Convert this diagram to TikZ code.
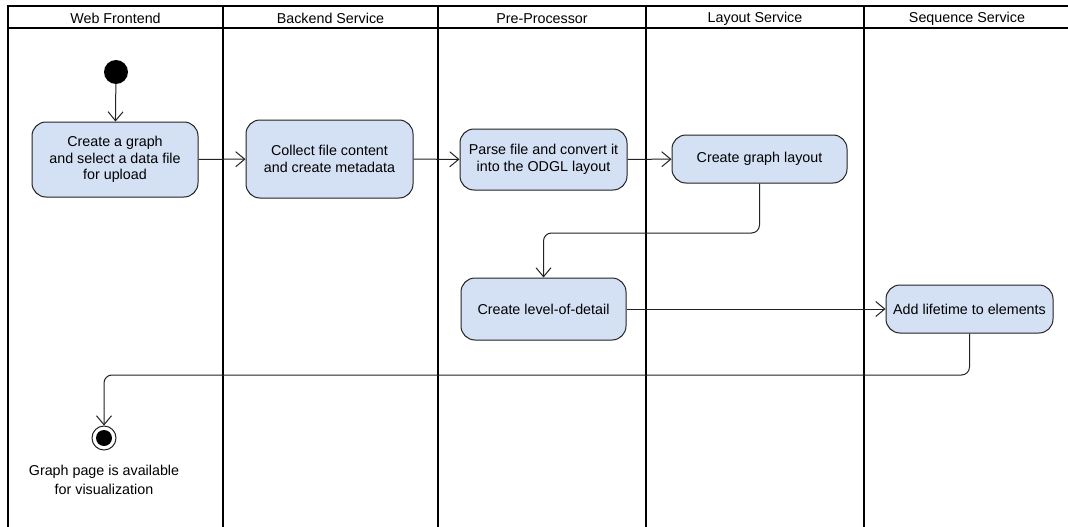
\documentclass[tikz,border=0pt]{standalone}
\usepackage{fontspec}
\setmainfont{Liberation Sans}
\usetikzlibrary{arrows.meta}
\definecolor{actfill}{HTML}{D4E1F5}
\definecolor{edge}{HTML}{222222}
\begin{document}
\begin{tikzpicture}[x=1pt,y=-1pt,
  lane/.style={draw=black, line width=1.8pt},
  lanehead/.style={font=\fontsize{14.3}{16}\selectfont, anchor=center},
  act/.style={draw=edge, fill=actfill, rounded corners=14pt, line width=1pt,
    align=center, inner sep=0pt, font=\fontsize{14.3}{16.5}\selectfont},
  flow/.style={draw=edge, line width=1pt, rounded corners=8pt,
    -{Straight Barb[length=9pt,width=15pt,line width=1pt]}},
  startdot/.style={circle, fill=black, minimum size=24pt, inner sep=0pt},
  enddot/.style={circle, draw=edge, line width=1pt, minimum size=24pt, inner sep=0pt}
]
\useasboundingbox (0,0) rectangle (1068,527);
\clip (0,0) rectangle (1068,527);

% swimlane frame
\draw[lane] (8,540) -- (8,6) -- (1080,6);
\draw[lane] (8,28) -- (1080,28);
\foreach \x in {223,438,646,864}
  \draw[lane] (\x,6) -- (\x,540);

% lane titles
\node[lanehead] (h1) at (115.5,18.5) {Web Frontend};
\node[lanehead] (h2) at (330.5,18.5) {Backend Service};
\node[lanehead] (h3) at (542,18.5) {Pre-Processor};
\node[lanehead] (h4) at (755,18.5) {Layout Service};
\node[lanehead] (h5) at (967,18.5) {Sequence Service};

% activities
\node[startdot] (start) at (116,72) {};
\node[act, minimum width=166pt, minimum height=75pt] (n1) at (115,159.5)
  {Create a graph\\and select a data file\\for upload};
\node[act, minimum width=167pt, minimum height=78pt] (n2) at (329.5,159)
  {Collect file content\\and create metadata};
\node[act, minimum width=167pt, minimum height=61pt] (n3) at (543.5,159.5)
  {Parse file and convert it\\into the ODGL layout};
\node[act, minimum width=175pt, minimum height=48pt] (n4) at (759.5,159)
  {Create graph layout};
\node[act, minimum width=165pt, minimum height=62pt] (n5) at (543.5,309)
  {Create level-of-detail};
\node[act, minimum width=167pt, minimum height=48pt] (n6) at (969.5,309)
  {Add lifetime to elements};

\node[enddot] (end) at (104,438) {};
\node[circle, fill=black, minimum size=16pt, inner sep=0pt] (endcore) at (end.center) {};
\node[align=center, font=\fontsize{14.3}{19}\selectfont] (endlabel) at (104,480)
  {Graph page is available\\for visualization};

% bend points
\coordinate (a1) at (759.5,233);
\coordinate (a2) at (543.5,233);
\coordinate (b1) at (969.5,375);
\coordinate (b2) at (104,375);

% control flow
\draw[flow] (start) -- (n1);
\draw[flow] (n1) -- (n2);
\draw[flow] (n2) -- (n3);
\draw[flow] (n3) -- (n4);
\draw[flow] (n4.south) -- (a1) -- (a2) -- (n5.north);
\draw[flow] (n5) -- (n6);
\draw[flow] (n6.south) -- (b1) -- (b2) -- (end.north);
\end{tikzpicture}
\end{document}
